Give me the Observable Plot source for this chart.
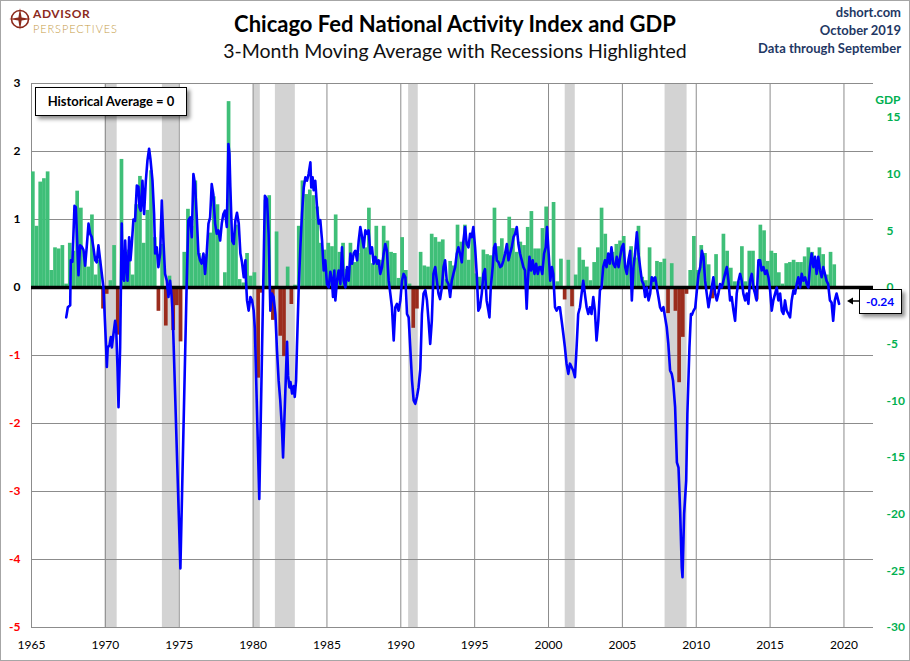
<!DOCTYPE html>
<html><head><meta charset="utf-8">
<script src="https://cdn.jsdelivr.net/npm/d3@7"></script>
<script src="https://cdn.jsdelivr.net/npm/@observablehq/plot@0.6"></script>
<style>
body{margin:0;background:#fff;font-family:Lato,"Open Sans",sans-serif;}
#wrap{position:relative;width:910px;height:661px;overflow:hidden;background:#fff;}
#border{position:absolute;left:0;top:0;width:908px;height:659px;border:1px solid #a6a6a6;pointer-events:none;}
.abs{position:absolute;white-space:nowrap;}
#title{left:0;width:910px;top:10px;text-align:center;font-weight:bold;font-size:22px;color:#000;}
#subtitle{left:0;width:910px;top:39px;text-align:center;font-size:19.5px;color:#111;}
.info{right:9px;font-weight:bold;font-size:13px;color:#1f3864;text-align:right;}
#logoA{left:33px;top:7px;font-weight:bold;font-size:12px;line-height:1.2;color:#8c2a1c;letter-spacing:0.6px;}
#logoP{left:33px;top:22px;font-weight:300;font-size:11px;line-height:1.2;color:#c59b47;letter-spacing:0.9px;}
#chart{position:absolute;left:0;top:70px;}
#histbox{position:absolute;left:35px;top:87px;width:150px;height:27px;border:1px solid #000;background:#fff;box-shadow:3px 3px 4px rgba(0,0,0,0.45);font-weight:bold;font-size:13px;line-height:27px;text-align:center;}
#callout{position:absolute;border:1px solid #000;background:#fff;box-shadow:3px 3px 4px rgba(0,0,0,0.45);font-weight:bold;font-size:12px;color:#0000ff;text-align:center;}
</style></head><body>
<div id="wrap">
  <svg class="abs" style="left:9px;top:8px" width="22" height="22" viewBox="0 0 22 22">
    <circle cx="11" cy="11" r="8.5" fill="none" stroke="#8c2a1c" stroke-width="1.6"/>
    <path d="M11 0 L12.6 9.4 L22 11 L12.6 12.6 L11 22 L9.4 12.6 L0 11 L9.4 9.4 Z" fill="#8c2a1c"/>
  </svg>
  <div class="abs" id="logoA">ADVISOR</div>
  <div class="abs" id="logoP">PERSPECTIVES</div>
  <div class="abs" id="title">Chicago Fed National Activity Index and GDP</div>
  <div class="abs" id="subtitle">3-Month Moving Average with Recessions Highlighted</div>
  <div class="abs info" style="top:4px">dshort.com</div>
  <div class="abs info" style="top:22px">October 2019</div>
  <div class="abs info" style="top:40px">Data through September</div>
  <div id="chart"></div>
  <div id="histbox">Historical Average = 0</div>
  <div id="callout"></div>
  <svg id="arrow" class="abs" width="20" height="12" viewBox="0 0 20 12"></svg>
  <div id="border"></div>
</div>
<script>
// ---- Tick labels ----
const yearTicks = [1965, 1970, 1975, 1980, 1985, 1990, 1995, 2000, 2005, 2010, 2015, 2020];
const leftTicks = [-5, -4, -3, -2, -1, 0, 1, 2, 3];
const rightTicks = [-30, -25, -20, -15, -10, -5, 0, 5, 10, 15];
const gdpPerIndexUnit = 6; // right axis (GDP) units per left axis (CFNAI) unit
const xDomain = [1965, 2022];

// ---- Recessions (decimal years) ----
const recessionStart = [1969.98, 1973.86, 1980.04, 1981.51, 1990.53, 2001.13, 2007.89];
const recessionEnd   = [1970.80, 1975.00, 1980.49, 1982.86, 1991.18, 2001.81, 2009.38];

// ---- Real GDP growth, quarterly, annualized %, starting 1965 Q1 ----
const gdpStartYear = 1965;
const gdp1960s = [10.2, 5.4, 9.3, 9.6,  10.2, 1.5, 3.5, 3.4,  3.7, 0.3, 3.9, 3.2,  8.5, 7.0, 2.8, 1.8,  6.4, 1.1, 2.4, -1.9];
const gdp1970s = [-0.6, 0.6, 3.7, -4.2,  11.3, 2.3, 3.3, 1.1,  7.3, 9.8, 3.9, 6.8,  10.3, 4.4, -2.1, 3.8,  -3.4, 1.0, -3.8, -1.6,
                  -4.8, 3.1, 6.9, 5.4,  9.4, 3.0, 2.0, 2.9,  4.8, 8.0, 7.3, 0.0,  1.3, 16.4, 4.1, 5.5,  0.7, 0.4, 3.0, 1.0];
const gdp1980s = [1.3, -8.0, -0.5, 7.7,  8.1, -2.9, 4.9, -4.3,  -6.1, 1.8, -1.5, 0.2,  5.4, 9.4, 8.2, 8.6,  8.1, 7.1, 3.9, 3.3,
                  3.9, 3.6, 6.4, 3.1,  3.9, 1.6, 3.9, 2.2,  3.0, 4.4, 3.5, 7.0,  2.1, 5.4, 2.4, 5.4,  4.1, 3.1, 3.0, 0.8];
const gdp1990s = [4.4, 1.5, 0.3, -3.6,  -1.9, 3.1, 1.9, 1.8,  4.7, 4.4, 4.0, 4.2,  0.7, 2.3, 1.9, 5.5,  4.0, 5.5, 2.4, 4.8,
                  1.2, 0.9, 3.3, 2.9,  2.8, 7.0, 3.6, 4.3,  3.1, 6.2, 5.2, 3.1,  4.0, 3.7, 5.3, 6.7,  3.4, 3.4, 5.2, 7.1];
const gdp2000s = [1.5, 7.5, 0.5, 2.5,  -1.1, 2.4, -1.7, 1.1,  3.5, 2.4, 1.8, 0.6,  2.2, 3.5, 7.0, 4.7,  2.2, 3.1, 3.8, 4.1,
                  4.5, 1.9, 3.6, 2.6,  5.4, 0.9, 0.6, 3.5,  0.9, 2.3, 2.2, 2.5,  -2.3, 2.1, -2.1, -8.4,  -4.4, -0.6, 1.5, 4.5];
const gdp2010s = [1.5, 3.7, 3.0, 2.0,  -1.0, 2.9, -0.1, 4.7,  3.2, 1.7, 0.5, 0.5,  3.6, 0.5, 3.2, 3.2,  -1.1, 5.5, 5.0, 2.3,
                  3.2, 3.0, 1.3, 0.3,  2.1, 2.2, 2.4, 2.2,  2.2, 2.7, 3.5, 3.1,  1.8, 3.5, 2.9, 1.1,  3.1, 2.0];

// ---- CFNAI 3-month moving average: [decimal year, value] ----
const cfnai1960s = [[1967.35,-0.44],[1967.46,-0.29],[1967.62,-0.26],[1967.66,0.40],[1967.77,0.38],[1967.91,1.20],[1968.00,1.18],[1968.09,0.69],[1968.18,0.18],[1968.29,0.62],[1968.41,0.60],[1968.52,0.55],[1968.63,0.32],[1968.74,0.60],[1968.86,0.94],[1968.97,0.79],[1969.08,0.74],[1969.19,0.59],[1969.31,0.40],[1969.42,0.37],[1969.53,0.62],[1969.65,0.40],[1969.76,0.20],[1969.87,0.00],[1969.94,-0.34]];
const cfnai1970s = [[1970.05,-0.88],[1970.10,-1.17],[1970.16,-0.88],[1970.28,-0.85],[1970.37,-0.73],[1970.44,-0.88],[1970.55,-0.68],[1970.66,-0.49],[1970.73,-0.58],[1970.82,-1.17],[1970.89,-1.76],[1971.00,-0.88],[1971.11,0.94],[1971.18,0.15],[1971.27,0.10],[1971.34,0.69],[1971.40,0.40],[1971.50,0.10],[1971.61,0.74],[1971.70,0.40],[1971.79,0.64],[1971.90,1.00],[1972.01,0.98],[1972.13,1.50],[1972.24,1.48],[1972.31,1.18],[1972.40,1.13],[1972.51,1.57],[1972.62,1.08],[1972.74,1.57],[1972.85,1.87],[1972.96,2.04],[1973.05,1.89],[1973.19,1.57],[1973.30,1.08],[1973.37,0.50],[1973.48,0.59],[1973.59,0.30],[1973.71,0.50],[1973.82,1.28],[1973.93,0.69],[1974.04,0.20],[1974.16,0.10],[1974.27,-0.14],[1974.38,0.10],[1974.49,-0.14],[1974.56,-0.40],[1975.08,-4.13],[1975.51,0.10],[1975.62,0.99],[1975.74,1.03],[1975.85,0.74],[1975.96,1.67],[1976.07,1.52],[1976.19,1.03],[1976.30,0.50],[1976.41,0.40],[1976.52,0.35],[1976.64,0.50],[1976.75,0.20],[1976.86,0.50],[1976.98,0.94],[1977.09,1.03],[1977.20,1.52],[1977.31,1.37],[1977.43,0.94],[1977.54,0.79],[1977.65,0.84],[1977.77,0.69],[1977.88,0.94],[1977.99,1.08],[1978.10,1.13],[1978.22,0.89],[1978.33,2.11],[1978.40,1.97],[1978.46,1.48],[1978.58,0.69],[1978.69,0.64],[1978.80,0.98],[1978.91,1.10],[1979.03,0.94],[1979.14,0.50],[1979.25,0.37],[1979.37,0.15],[1979.48,0.40],[1979.52,0.10],[1979.59,-0.19],[1979.70,-0.34],[1979.82,-0.14],[1979.93,-0.19]];
const cfnai1980s = [[1980.04,-0.34],[1980.12,-0.60],[1980.42,-3.11],[1980.80,1.35],[1980.94,1.30],[1981.05,0.79],[1981.17,-0.34],[1981.28,-0.09],[1981.39,-0.14],[1981.51,-0.39],[1981.62,-0.93],[1981.73,-1.37],[1981.84,-1.66],[1981.96,-2.10],[1982.03,-2.50],[1982.30,-0.80],[1982.37,-1.30],[1982.46,-1.47],[1982.53,-1.39],[1982.64,-1.56],[1982.75,-1.45],[1982.82,-1.61],[1982.91,-1.37],[1982.97,-0.88],[1983.09,0.00],[1983.20,0.59],[1983.31,1.08],[1983.43,1.47],[1983.54,1.62],[1983.65,1.57],[1983.76,1.67],[1983.88,1.84],[1983.94,1.47],[1984.03,1.62],[1984.10,1.43],[1984.21,1.57],[1984.33,1.18],[1984.44,0.94],[1984.55,0.99],[1984.67,0.69],[1984.78,0.25],[1984.89,0.40],[1985.00,0.05],[1985.12,0.00],[1985.23,0.23],[1985.34,0.10],[1985.41,-0.14],[1985.50,0.25],[1985.57,-0.19],[1985.68,0.10],[1985.79,0.25],[1985.91,0.05],[1986.02,0.59],[1986.13,0.10],[1986.25,0.00],[1986.36,0.30],[1986.47,0.10],[1986.59,0.50],[1986.70,0.35],[1986.81,0.50],[1986.92,0.54],[1987.04,0.40],[1987.15,0.69],[1987.26,0.89],[1987.38,0.74],[1987.49,0.59],[1987.60,0.84],[1987.71,0.79],[1987.82,0.84],[1987.94,0.50],[1988.05,0.59],[1988.16,0.35],[1988.28,0.45],[1988.39,0.35],[1988.50,0.40],[1988.61,0.20],[1988.73,0.30],[1988.84,0.50],[1988.95,0.64],[1989.06,0.54],[1989.18,0.10],[1989.29,-0.09],[1989.40,-0.29],[1989.52,-0.78],[1989.63,-0.29],[1989.74,-0.24],[1989.85,-0.34],[1989.97,-0.19]];
const cfnai1990s = [[1990.08,0.10],[1990.19,0.20],[1990.31,0.15],[1990.42,-0.39],[1990.53,-0.44],[1990.64,-0.88],[1990.76,-1.37],[1990.87,-1.66],[1990.98,-1.71],[1991.09,-1.61],[1991.20,-1.47],[1991.32,-1.20],[1991.43,-0.39],[1991.54,-0.09],[1991.66,-0.04],[1991.77,-0.19],[1991.88,-0.49],[1991.99,-0.83],[1992.10,-0.49],[1992.21,0.20],[1992.33,0.30],[1992.44,0.10],[1992.55,-0.09],[1992.66,-0.17],[1992.78,0.00],[1992.89,0.30],[1993.00,0.40],[1993.11,0.10],[1993.23,0.05],[1993.34,-0.14],[1993.45,0.10],[1993.56,0.20],[1993.68,0.30],[1993.79,0.50],[1993.90,0.59],[1994.01,0.50],[1994.13,0.37],[1994.24,0.69],[1994.35,0.89],[1994.46,0.64],[1994.58,0.59],[1994.69,0.79],[1994.80,0.74],[1994.91,0.89],[1995.03,0.59],[1995.14,0.20],[1995.25,-0.34],[1995.36,-0.29],[1995.48,-0.09],[1995.59,0.20],[1995.70,0.27],[1995.81,-0.19],[1995.93,-0.34],[1996.00,-0.44],[1996.09,0.00],[1996.22,0.30],[1996.31,0.59],[1996.40,0.64],[1996.50,0.40],[1996.62,0.37],[1996.73,0.30],[1996.84,0.32],[1996.95,0.40],[1997.06,0.50],[1997.18,0.64],[1997.29,0.40],[1997.40,0.50],[1997.51,0.59],[1997.63,0.74],[1997.74,0.79],[1997.85,0.89],[1997.96,0.64],[1998.07,0.50],[1998.19,0.40],[1998.30,0.30],[1998.41,0.25],[1998.52,-0.31],[1998.59,0.05],[1998.71,0.45],[1998.82,0.25],[1998.93,0.40],[1999.05,0.20],[1999.16,0.35],[1999.27,0.20],[1999.38,0.30],[1999.47,0.30],[1999.58,0.20],[1999.70,0.50],[1999.81,0.59],[1999.90,0.89]];
const cfnai2000s = [[2000.01,0.50],[2000.12,0.10],[2000.23,0.30],[2000.32,0.20],[2000.44,-0.29],[2000.55,-0.34],[2000.66,-0.29],[2000.77,-0.29],[2000.89,-0.49],[2001.00,-0.68],[2001.11,-0.88],[2001.22,-1.12],[2001.34,-1.27],[2001.45,-1.12],[2001.56,-1.17],[2001.67,-1.22],[2001.79,-1.32],[2001.90,-0.88],[2002.01,-0.39],[2002.13,-0.29],[2002.24,-0.09],[2002.35,0.10],[2002.46,-0.09],[2002.58,-0.29],[2002.69,-0.39],[2002.80,-0.29],[2002.91,-0.39],[2003.03,-0.14],[2003.14,-0.34],[2003.25,-0.78],[2003.37,-0.49],[2003.48,-0.04],[2003.59,0.00],[2003.70,0.30],[2003.82,0.40],[2003.93,0.30],[2004.04,0.50],[2004.15,0.35],[2004.26,0.59],[2004.38,0.35],[2004.51,0.30],[2004.62,0.45],[2004.74,0.30],[2004.85,0.45],[2004.96,0.59],[2005.07,0.64],[2005.19,0.30],[2005.30,0.20],[2005.41,0.40],[2005.53,0.54],[2005.64,-0.19],[2005.75,0.30],[2005.86,0.50],[2005.98,0.81],[2006.09,0.50],[2006.20,0.30],[2006.32,0.10],[2006.43,0.05],[2006.54,-0.14],[2006.65,0.00],[2006.77,-0.19],[2006.88,-0.09],[2006.99,0.15],[2007.10,0.10],[2007.22,0.15],[2007.33,0.00],[2007.44,-0.14],[2007.55,-0.29],[2007.66,-0.34],[2007.78,-0.29],[2007.89,-0.44],[2008.00,-0.58],[2008.11,-0.83],[2008.23,-1.22],[2008.34,-1.27],[2008.43,-1.37],[2008.57,-1.76],[2008.69,-2.57],[2008.80,-2.65],[2008.91,-3.28],[2009.02,-4.12],[2009.07,-4.26],[2009.18,-3.33],[2009.32,-2.84],[2009.40,-1.86],[2009.54,-0.88],[2009.64,-0.39],[2009.71,-0.40],[2009.82,-0.34],[2009.93,-0.30]];
const cfnai2010s = [[2010.04,-0.05],[2010.16,0.20],[2010.27,0.30],[2010.38,0.54],[2010.49,0.45],[2010.60,0.10],[2010.71,-0.09],[2010.83,-0.29],[2010.94,-0.14],[2011.05,0.00],[2011.16,0.15],[2011.28,-0.09],[2011.39,-0.19],[2011.50,-0.09],[2011.61,0.05],[2011.73,0.00],[2011.84,0.10],[2011.95,0.20],[2012.07,0.30],[2012.18,0.10],[2012.29,-0.19],[2012.40,-0.14],[2012.52,-0.34],[2012.63,-0.49],[2012.74,-0.09],[2012.86,0.10],[2012.97,0.20],[2013.08,0.10],[2013.19,-0.09],[2013.31,-0.19],[2013.42,-0.09],[2013.53,-0.24],[2013.64,0.10],[2013.76,0.20],[2013.87,0.00],[2013.98,-0.09],[2014.09,-0.19],[2014.21,0.40],[2014.32,0.40],[2014.43,0.25],[2014.55,0.30],[2014.66,0.20],[2014.77,0.25],[2014.89,0.15],[2015.00,-0.04],[2015.11,-0.34],[2015.22,-0.19],[2015.34,-0.09],[2015.45,0.00],[2015.56,-0.19],[2015.68,-0.09],[2015.79,-0.34],[2015.90,-0.39],[2016.01,-0.19],[2016.12,-0.34],[2016.24,-0.39],[2016.35,-0.44],[2016.46,-0.19],[2016.58,-0.04],[2016.69,-0.09],[2016.80,0.05],[2016.91,0.15],[2017.03,0.00],[2017.14,0.20],[2017.25,0.10],[2017.37,0.15],[2017.48,0.05],[2017.59,0.00],[2017.70,0.30],[2017.81,0.50],[2017.93,0.30],[2018.04,0.45],[2018.15,0.20],[2018.26,0.45],[2018.38,0.25],[2018.49,0.15],[2018.60,0.30],[2018.71,0.20],[2018.82,0.10],[2018.93,0.05],[2019.05,-0.19],[2019.16,-0.22],[2019.27,-0.49],[2019.38,-0.19],[2019.50,-0.09],[2019.67,-0.24]];

// ---- Build tables ----
const green = "#3fbf78", darkRed = "#9b2c1d", blue = "#0000ff", gridGray = "#8c8c8c";
const gdpAll = [...gdp1960s, ...gdp1970s, ...gdp1980s, ...gdp1990s, ...gdp2000s, ...gdp2010s];
const gdpBars = gdpAll.map((g, i) => ({start: gdpStartYear + i / 4, end: gdpStartYear + (i + 1) / 4, gdp: g, idx: g / gdpPerIndexUnit}));
const cfnai = [...cfnai1960s, ...cfnai1970s, ...cfnai1980s, ...cfnai1990s, ...cfnai2000s, ...cfnai2010s].map(([year, value]) => ({year, value}));
const recessions = recessionStart.map((s, i) => ({start: s, end: recessionEnd[i]}));
const yLo = leftTicks[0], yHi = leftTicks[leftTicks.length - 1];

const plot = Plot.plot({
  width: 910, height: 591,
  marginTop: 13, marginBottom: 34, marginLeft: 31, marginRight: 37,
  x: {domain: xDomain},
  y: {domain: [yLo, yHi]},
  style: {fontFamily: "Lato, 'Open Sans', sans-serif", fontSize: "12px", background: "transparent", overflow: "visible"},
  marks: [
    Plot.rect(recessions, {x1: "start", x2: "end", y1: yLo, y2: yHi, fill: "#d3d3d3"}),
    Plot.gridX(yearTicks, {stroke: gridGray, strokeOpacity: 1, strokeWidth: 1}),
    Plot.gridY(leftTicks, {stroke: gridGray, strokeOpacity: 1, strokeWidth: 1}),
    Plot.rect(gdpBars.filter(d => d.gdp >= 0), {x1: "start", x2: "end", y1: 0, y2: "idx", fill: green}),
    Plot.rect(gdpBars.filter(d => d.gdp < 0), {x1: "start", x2: "end", y1: 0, y2: "idx", fill: darkRed}),
    Plot.ruleY([0], {stroke: "#000", strokeWidth: 3.5}),
    Plot.line(cfnai, {x: "year", y: "value", stroke: "#333", strokeOpacity: 0.4, strokeWidth: 3, dx: 2, dy: 3, ariaLabel: "line-shadow"}),
    Plot.line(cfnai, {x: "year", y: "value", stroke: blue, strokeWidth: 2.6, strokeLinejoin: "round"}),
    Plot.axisX(yearTicks, {tickSize: 0, tickPadding: 13, tickFormat: d => String(d), fontSize: 12, label: null}),
    Plot.axisY(leftTicks.filter(t => t >= 0), {anchor: "left", tickSize: 0, tickPadding: 11, fill: "#000", fontWeight: "bold", fontSize: 12, tickFormat: d => String(d), label: null}),
    Plot.axisY(leftTicks.filter(t => t < 0), {anchor: "left", tickSize: 0, tickPadding: 11, fill: "#ff0000", fontWeight: "bold", fontSize: 12, tickFormat: d => String(d), label: null}),
    Plot.axisY(rightTicks.map(g => g / gdpPerIndexUnit), {anchor: "right", tickSize: 0, tickPadding: 13, fill: "#00b050", fontWeight: "bold", fontSize: 12, tickFormat: d => String(Math.round(d * gdpPerIndexUnit)), label: null}),
    Plot.text(["GDP"], {text: d => d, frameAnchor: "top-right", dx: 27, dy: 12, textAnchor: "end", fill: "#00b050", fontWeight: "bold", fontSize: 12})
  ]
});
document.getElementById("chart").appendChild(plot);
const sh = plot.querySelector('[aria-label="line-shadow"]');
if (sh) sh.style.filter = "blur(1.5px)";

// ---- Last value callout, positioned through the plot's scales ----
const last = cfnai[cfnai.length - 1];
const chartTop = 70;
const px = plot.scale("x").apply(last.year);
const py = plot.scale("y").apply(last.value) + chartTop;
const box = document.getElementById("callout");
box.textContent = last.value.toFixed(2);
box.style.left = (px + 20) + "px";
box.style.top = (py - 14) + "px";
box.style.width = "41px";
box.style.height = "23px";
box.style.lineHeight = "23px";
const arrow = document.getElementById("arrow");
arrow.style.left = (px + 7) + "px";
arrow.style.top = (py - 8) + "px";
arrow.innerHTML = '<line x1="13" y1="6" x2="5" y2="6" stroke="#000" stroke-width="1.5"/><path d="M1 6 L7 2.5 L7 9.5 Z" fill="#000"/>';
</script>
</body></html>
